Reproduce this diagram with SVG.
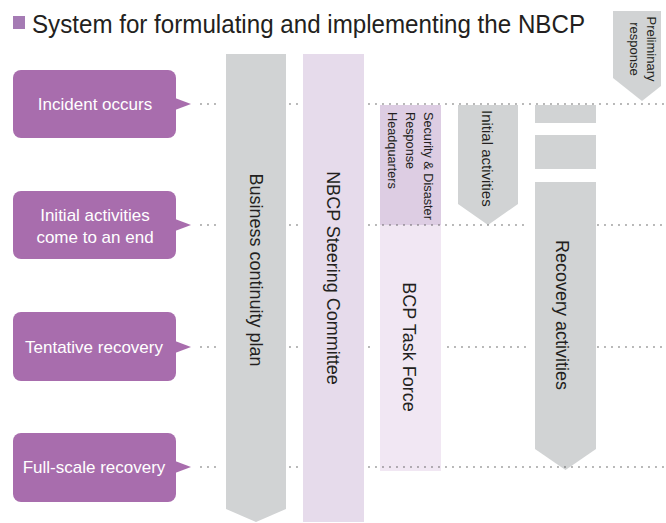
<svg xmlns="http://www.w3.org/2000/svg" width="666" height="523" viewBox="0 0 666 523">
<style>
.ev{fill:#a86dad}
.evt{fill:#ffffff;font-family:"Liberation Sans",Arial,sans-serif;font-size:17px;text-anchor:middle}
.gray{fill:#d1d3d4}
.lbl{fill:#231f20;font-family:"Liberation Sans",Arial,sans-serif}
.dot{stroke:#444;stroke-width:1.4;stroke-dasharray:0 7;stroke-linecap:round;fill:none}
</style>
<rect width="666" height="523" fill="#ffffff"/>
<g id="title">
<rect x="13" y="16" width="12" height="13" fill="#a57bb4"/>
<text class="lbl" x="32" y="33" font-size="26" textLength="553" lengthAdjust="spacingAndGlyphs">System for formulating and implementing the NBCP</text>
</g>
<g id="bcp-plan">
<polygon class="gray" points="226,54 286,54 286,509 256,522 226,509"/>
<text class="lbl" font-size="18" text-anchor="middle" transform="translate(250,270) rotate(90)">Business continuity plan</text>
</g>
<g id="steering">
<rect x="303" y="54" width="61" height="468" fill="#e6dbeb"/>
<text class="lbl" font-size="18" text-anchor="middle" transform="translate(327,278) rotate(90)">NBCP Steering Committee</text>
</g>
<g id="task-force">
<rect x="380" y="225" width="61" height="246" fill="#f1e7f3"/>
<text class="lbl" font-size="18" text-anchor="middle" transform="translate(403,347) rotate(90)">BCP Task Force</text>
</g>
<g id="hq">
<rect x="380" y="105" width="61" height="120" fill="#ddcde3"/>
<g class="lbl" font-size="12.7">
<text transform="translate(424,112) rotate(90)">Security &amp; Disaster</text>
<text transform="translate(406,112) rotate(90)">Response</text>
<text transform="translate(388,112) rotate(90)">Headquarters</text>
</g>
</g>
<g id="initial-activities">
<polygon class="gray" points="458,105 518,105 518,204 488,225 458,204"/>
<text class="lbl" font-size="15" transform="translate(482,110) rotate(90)">Initial activities</text>
</g>
<g id="recovery-activities">
<rect class="gray" x="535" y="105" width="61" height="18"/>
<rect class="gray" x="535" y="135" width="61" height="34"/>
<polygon class="gray" points="535,182 596,182 596,449 565.5,470 535,449"/>
<text class="lbl" font-size="18" text-anchor="middle" transform="translate(556,315) rotate(90)">Recovery activities</text>
</g>
<g id="preliminary-response">
<polygon class="gray" points="613,11 661,11 661,86 642,101 613,78"/>
<g class="lbl" font-size="13" text-anchor="middle">
<text transform="translate(647,49) rotate(90)">Preliminary</text>
<text transform="translate(630,49) rotate(90)">response</text>
</g>
</g>
<g id="incident-occurs">
<rect class="ev" x="13" y="70" width="163" height="68" rx="8"/>
<polygon class="ev" points="175,98 191,104 175,110"/>
<text class="evt" x="95" y="110">Incident occurs</text>
</g>
<g id="initial-end">
<rect class="ev" x="13" y="191" width="163" height="68" rx="8"/>
<polygon class="ev" points="175,219 191,225 175,231"/>
<text class="evt" x="95" y="221">Initial activities</text>
<text class="evt" x="95" y="243">come to an end</text>
</g>
<g id="tentative-recovery">
<rect class="ev" x="13" y="312" width="163" height="69" rx="8"/>
<polygon class="ev" points="175,341 191,347 175,353"/>
<text class="evt" x="94" y="353">Tentative recovery</text>
</g>
<g id="full-scale-recovery">
<rect class="ev" x="13" y="433" width="163" height="69" rx="8"/>
<polygon class="ev" points="175,461 191,467 175,473"/>
<text class="evt" x="94" y="473">Full-scale recovery</text>
</g>
<g id="connectors">
<path class="dot" d="M201,104H219M290,104H300M369,104H666"/>
<path class="dot" d="M201,225H219M290,225H300M369,225H530M598,225H666"/>
<path class="dot" d="M201,347H219M290,347H300M369,347H376M448,347H530M598,347H666"/>
<path class="dot" d="M201,467H219M290,467H300M369,467H666"/>
</g>
</svg>
